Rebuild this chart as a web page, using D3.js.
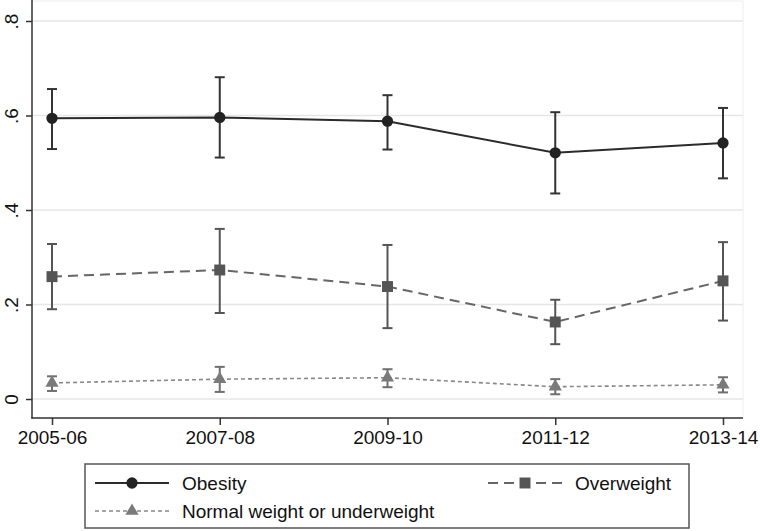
<!DOCTYPE html>
<html><head><meta charset="utf-8">
<script src="https://cdn.jsdelivr.net/npm/d3@7"></script>
<style>body{margin:0;background:#fff}svg{display:block;font-family:"Liberation Sans",Arial,sans-serif}</style>
</head><body>
<svg id="c" width="760" height="531"></svg>
<script>
const categories = ["2005-06","2007-08","2009-10","2011-12","2013-14"];
const obesity    = [0.594, 0.596, 0.588, 0.521, 0.542];
const obesityLo  = [0.529, 0.511, 0.528, 0.435, 0.467];
const obesityHi  = [0.656, 0.681, 0.643, 0.607, 0.616];
const overweight   = [0.259, 0.273, 0.238, 0.163, 0.250];
const overweightLo = [0.190, 0.182, 0.150, 0.116, 0.166];
const overweightHi = [0.328, 0.360, 0.326, 0.210, 0.332];
const normal   = [0.034, 0.042, 0.045, 0.026, 0.030];
const normalLo = [0.017, 0.015, 0.025, 0.010, 0.014];
const normalHi = [0.048, 0.068, 0.063, 0.042, 0.046];
const yTicks = [0, 0.2, 0.4, 0.6, 0.8];
const yTickLabels = ["0", ".2", ".4", ".6", ".8"];
const legendLabels = ["Obesity", "Overweight", "Normal weight or underweight"];

const svg = d3.select("#c");
const L = 32, R = 743, T = 1, B = 418;
const x = d3.scalePoint().domain(categories).range([52, 723]);
const y = d3.scaleLinear().domain([0, 0.8]).range([399, 21]);

// plot region
svg.append("rect").attr("x", L).attr("y", T).attr("width", R - L).attr("height", B - T)
  .attr("fill", "#fff").attr("stroke", "#eeeeee").attr("stroke-width", 1);
// gridlines
svg.append("g").selectAll("line").data(yTicks).join("line")
  .attr("x1", L).attr("x2", R).attr("y1", d => y(d)).attr("y2", d => y(d))
  .attr("stroke", "#e6e6e6").attr("stroke-width", 1.6);

// y axis
const yAxis = svg.append("g").attr("transform", `translate(${L},0)`)
  .call(d3.axisLeft(y).tickValues(yTicks).tickSize(6).tickFormat((d, i) => yTickLabels[i]));
yAxis.select(".domain").remove();
yAxis.selectAll(".tick line").attr("stroke", "#333").attr("stroke-width", 1.5);
yAxis.selectAll(".tick text").attr("font-size", 19).attr("fill", "#111")
  .attr("text-anchor", "middle").attr("x", null).attr("dy", null)
  .attr("transform", "translate(-14,0) rotate(-90)");
svg.append("line").attr("x1", L).attr("x2", L).attr("y1", 0).attr("y2", B + 0.5)
  .attr("stroke", "#333").attr("stroke-width", 1.5);

// x axis
const xAxis = svg.append("g").attr("transform", `translate(0,${B})`)
  .call(d3.axisBottom(x).tickSize(7).tickPadding(6));
xAxis.select(".domain").remove();
xAxis.selectAll(".tick line").attr("stroke", "#333").attr("stroke-width", 1.5);
xAxis.selectAll(".tick text").attr("font-size", 19).attr("fill", "#111");
svg.append("line").attr("x1", L - 0.75).attr("x2", R).attr("y1", B).attr("y2", B)
  .attr("stroke", "#333").attr("stroke-width", 1.5);

const series = [
  {name: legendLabels[0], v: obesity, lo: obesityLo, hi: obesityHi, line: "#2b2b2b", mk: "#222", eb: "#333", dash: null, sym: d3.symbolCircle, size: 100, lw: 2},
  {name: legendLabels[1], v: overweight, lo: overweightLo, hi: overweightHi, line: "#666", mk: "#555", eb: "#555", dash: "10,6", sym: d3.symbolSquare, size: 120, lw: 2},
  {name: legendLabels[2], v: normal, lo: normalLo, hi: normalHi, line: "#888", mk: "#7a7a7a", eb: "#6f6f6f", dash: "4,3", sym: d3.symbolTriangle, size: 75, lw: 1.6}
];

const lineGen = d3.line().x((d, i) => x(categories[i])).y(d => y(d));
series.forEach(s => {
  const g = svg.append("g");
  g.append("path").attr("d", lineGen(s.v)).attr("fill", "none")
    .attr("stroke", s.line).attr("stroke-width", s.lw).attr("stroke-dasharray", s.dash);
  const eb = g.append("g").attr("stroke", s.eb).attr("stroke-width", 2).attr("fill", "none");
  categories.forEach((c, i) => {
    const cx = x(c);
    eb.append("line").attr("x1", cx).attr("x2", cx).attr("y1", y(s.lo[i])).attr("y2", y(s.hi[i]));
    eb.append("line").attr("x1", cx - 5).attr("x2", cx + 5).attr("y1", y(s.lo[i])).attr("y2", y(s.lo[i]));
    eb.append("line").attr("x1", cx - 5).attr("x2", cx + 5).attr("y1", y(s.hi[i])).attr("y2", y(s.hi[i]));
  });
  g.selectAll(".m").data(s.v).join("path")
    .attr("d", d3.symbol().type(s.sym).size(s.size))
    .attr("transform", (d, i) => `translate(${x(categories[i])},${y(d)})`)
    .attr("fill", s.mk);
});

// legend
svg.append("rect").attr("x", 85).attr("y", 464).attr("width", 604).attr("height", 64)
  .attr("fill", "#fff").attr("stroke", "#555").attr("stroke-width", 1.5);
const legPos = [{kx: 95, ty: 483}, {kx: 488, ty: 483}, {kx: 95, ty: 511}];
series.forEach((s, i) => {
  const p = legPos[i];
  const g = svg.append("g");
  g.append("line").attr("x1", p.kx).attr("x2", p.kx + 74).attr("y1", p.ty).attr("y2", p.ty)
    .attr("stroke", s.line).attr("stroke-width", s.lw).attr("stroke-dasharray", s.dash);
  g.append("path").attr("d", d3.symbol().type(s.sym).size(s.size)())
    .attr("transform", `translate(${p.kx + 37},${p.ty})`).attr("fill", s.mk);
  g.append("text").attr("x", p.kx + 87).attr("y", p.ty + 7).attr("font-size", 19)
    .attr("fill", "#111").text(s.name);
});
</script>
</body></html>
